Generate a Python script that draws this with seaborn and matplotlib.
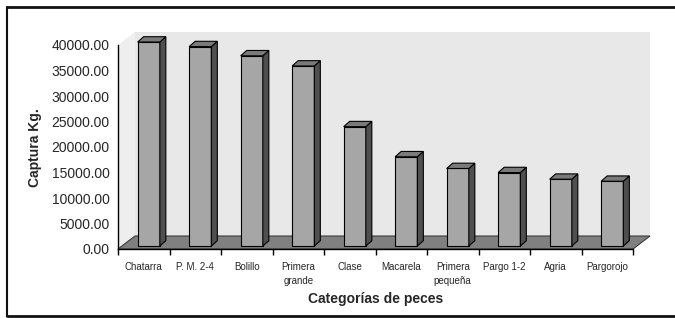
import numpy as np
import pandas as pd
import matplotlib
matplotlib.use("Agg")
import matplotlib.pyplot as plt
import seaborn as sns
from matplotlib.patches import Polygon
from matplotlib.lines import Line2D

categorias = ["Chatarra", "P. M. 2-4", "Bolillo", "Primera\ngrande", "Clase",
              "Macarela", "Primera\npequeña", "Pargo 1-2", "Agria", "Pargorojo"]
captura = [40000, 39100, 37300, 35300, 23400, 17500, 15200, 14400, 13100, 12700]
yticks = [0, 5000, 10000, 15000, 20000, 25000, 30000, 35000, 40000]

df = pd.DataFrame({"categoria": categorias, "captura": captura})

sns.set_theme(style="white")
plt.rcParams['font.family'] = ['Liberation Sans', 'DejaVu Sans']

fig = plt.figure(figsize=(6.75, 3.18), dpi=100)
ax = fig.add_axes([118 / 675, 69 / 318, 515 / 675, 204 / 318])

sns.barplot(data=df, x="categoria", y="captura", color="#a6a6a6",
            width=0.43, edgecolor="black", linewidth=0.8, saturation=1, ax=ax, zorder=3)
ax.set_xlim(-0.5, 9.5)
ax.set_ylim(0, 40000)

# 3d look: pixel offsets turned into data units
px_x = 1 / 51.5
px_y = 1000 / 5.1
wall_dx, wall_dy = 17 * px_x, 13 * px_y
bar_dx, bar_dy = 5 * px_x, 3 * px_y
dep_dx, dep_dy = 6 * px_x, 5.3 * px_y

x0, x1 = -0.5, 9.5
ymax = 40000
wall = Polygon([(x0 + wall_dx, wall_dy), (x1 + wall_dx, wall_dy),
                (x1 + wall_dx, ymax + wall_dy), (x0 + wall_dx, ymax + wall_dy)],
               closed=True, facecolor="#e8e8e8", edgecolor="none", clip_on=False, zorder=0.5)
side = Polygon([(x0, 0), (x0 + wall_dx, wall_dy), (x0 + wall_dx, ymax + wall_dy), (x0, ymax)],
               closed=True, facecolor="#eeeeee", edgecolor="none", clip_on=False, zorder=0.6)
floor = Polygon([(x0, 0), (x1, 0), (x1 + wall_dx, wall_dy), (x0 + wall_dx, wall_dy)],
                closed=True, facecolor="#808080", edgecolor="#3a3a3a", linewidth=0.8,
                clip_on=False, zorder=0.7)
for p in [wall, side, floor]:
    ax.add_patch(p)

for bar in ax.patches[:]:
    if bar in (wall, side, floor):
        continue
    bar.set_x(bar.get_x() + bar_dx)
    bar.set_y(bar_dy)
    bar.set_clip_on(False)
    x = bar.get_x()
    w = bar.get_width()
    h = bar.get_height()
    y0 = bar_dy
    lado = Polygon([(x + w, y0), (x + w + dep_dx, y0 + dep_dy),
                    (x + w + dep_dx, y0 + h + dep_dy), (x + w, y0 + h)],
                   closed=True, facecolor="#4f4f4f", edgecolor="black", linewidth=0.8,
                   clip_on=False, zorder=3)
    tapa = Polygon([(x, y0 + h), (x + dep_dx, y0 + h + dep_dy),
                    (x + w + dep_dx, y0 + h + dep_dy), (x + w, y0 + h)],
                   closed=True, facecolor="#7a7a7a", edgecolor="black", linewidth=0.8,
                   clip_on=False, zorder=3)
    ax.add_patch(lado)
    ax.add_patch(tapa)

for s in ["top", "right"]:
    ax.spines[s].set_visible(False)
for s in ["left", "bottom"]:
    ax.spines[s].set_color("black")
    ax.spines[s].set_linewidth(1)
    ax.spines[s].set_zorder(4)

ax.set_yticks(yticks)
ax.set_yticklabels([f"{v:.2f}" for v in yticks], fontsize=10)
ax.set_xticks(range(len(categorias)))
ax.set_xticklabels(categorias, fontsize=7, linespacing=1.6)
ax.set_xticks(np.arange(-0.5, 10, 1), minor=True)
ax.tick_params(axis="x", which="major", length=0, pad=9)
ax.tick_params(axis="x", which="minor", length=4, width=1, color="black", direction="out")
ax.tick_params(axis="y", length=4, width=1, color="black", direction="out", pad=2)
ax.tick_params(axis="x", which="both", bottom=True)
ax.xaxis.set_tick_params(which="minor", bottom=True)

ax.set_xlabel("")
ax.set_ylabel("")
fig.text(35 / 675, 1 - 148 / 318, "Captura Kg.", rotation=90, fontsize=10,
         fontweight="bold", ha="center", va="center")
fig.text(376 / 675, 1 - 299 / 318, "Categorías de peces", fontsize=10,
         fontweight="bold", ha="center", va="center")

# frame around the chart
fig.add_artist(Line2D([7 / 675, 1.0], [1 - 6.5 / 318] * 2, color="#111111", linewidth=2))
fig.add_artist(Line2D([7 / 675, 1.0], [1 - 316 / 318] * 2, color="#111111", linewidth=2))
fig.add_artist(Line2D([7 / 675] * 2, [1 - 6.5 / 318, 1 - 316 / 318], color="#111111", linewidth=1.5))

fig.savefig("out.png", dpi=100, facecolor="white")
